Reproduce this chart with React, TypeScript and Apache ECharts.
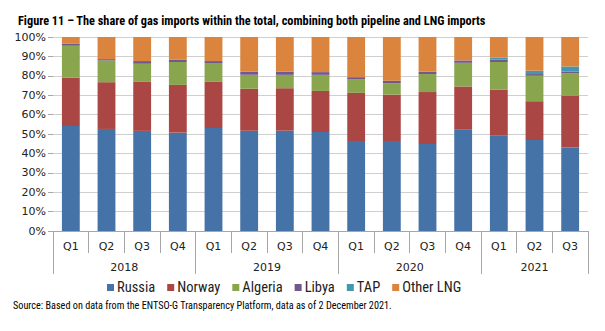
import React, { useEffect, useRef } from "react";
import * as echarts from "echarts";

const quarters = ["Q1","Q2","Q3","Q4","Q1","Q2","Q3","Q4","Q1","Q2","Q3","Q4","Q1","Q2","Q3"];
const years = ["2018", "2019", "2020", "2021"];
const yearCenters = [2, 6, 10, 13.5];
const yearBounds = [0, 4, 8, 12, 15];

const russia =   [54.1, 52.6, 51.6, 50.7, 53.1, 51.7, 51.7, 51.0, 46.4, 46.4, 44.8, 52.4, 49.3, 46.9, 43.1];
const norway =   [25.0, 24.1, 25.5, 24.6, 24.0, 21.6, 21.9, 21.2, 24.8, 23.9, 26.8, 22.1, 23.5, 20.0, 26.7];
const algeria =  [16.4, 11.2, 9.1, 11.8, 9.5, 7.2, 6.9, 8.3, 7.1, 5.9, 9.3, 12.2, 14.3, 13.1, 11.4];
const libya =    [1.2, 0.7, 1.4, 1.3, 1.0, 1.6, 1.6, 1.4, 1.0, 1.2, 1.2, 1.2, 1.2, 0.9, 1.0];
const tap =      [0, 0, 0, 0, 0, 0, 0, 0, 0, 0, 0, 0, 1.0, 1.7, 2.6];
const otherLng = [3.3, 11.4, 12.4, 11.6, 12.4, 17.9, 17.9, 18.1, 20.7, 22.6, 17.9, 12.1, 10.7, 17.4, 15.2];

const seriesNames = ["Russia", "Norway", "Algeria", "Libya", "TAP", "Other LNG"];
const seriesData = [russia, norway, algeria, libya, tap, otherLng];
const colors = ["#4572A7", "#AA4643", "#89A54E", "#71588F", "#4198AF", "#DB843D"];

const narrow = "'Liberation Sans Narrow', 'Roboto Condensed', 'Open Sans', sans-serif";
const tickFont = "'DejaVu Sans', Verdana, sans-serif";

export default function App() {
  const ref = useRef<HTMLDivElement>(null);
  useEffect(() => {
    if (!ref.current) return;
    const chart = echarts.init(ref.current, null, { renderer: "svg" });
    chart.setOption({
      animation: false,
      backgroundColor: "#ffffff",
      title: {
        text: "Figure 11 \u2013 The share of gas imports within the total, combining both pipeline and LNG imports",
        left: 13,
        top: 10,
        textStyle: { fontFamily: narrow, fontSize: 12.3, fontWeight: "bold", color: "#000" },
      },
      legend: {
        data: seriesNames,
        top: 275,
        left: 102,
        itemWidth: 7,
        itemHeight: 7,
        itemGap: 12,
        icon: "rect",
        textStyle: { fontFamily: narrow, fontSize: 14.5, color: "#222", padding: [0, 0, 0, -2] },
      },
      graphic: [
        {
          type: "text",
          left: 13,
          top: 300,
          style: {
            text: "Source: Based on data from the ENTSO-G Transparency Platform, data as of 2 December 2021.",
            fontFamily: narrow,
            fontSize: 10.2,
            fill: "#000",
          },
        },
      ],
      grid: { left: 53, right: 17, top: 37, bottom: 100, containLabel: false },
      xAxis: [
        {
          type: "category",
          data: quarters,
          position: "bottom",
          axisLine: { show: true, lineStyle: { color: "#a6a6a6" } },
          axisTick: { show: true, interval: 0, length: 22, lineStyle: { color: "#a6a6a6" } },
          axisLabel: { interval: 0, margin: 10, fontFamily: tickFont, fontSize: 11, color: "#222" },
        },
        {
          type: "value",
          min: 0,
          max: 15,
          position: "bottom",
          axisLine: { show: false },
          splitLine: { show: false },
          axisTick: { show: true, length: 43, customValues: yearBounds, lineStyle: { color: "#a6a6a6" } },
          axisLabel: {
            show: true,
            customValues: yearCenters,
            margin: 31,
            fontFamily: tickFont,
            fontSize: 11,
            color: "#222",
            formatter: (v: number) => years[yearCenters.indexOf(v)] ?? "",
          },
        },
      ],
      yAxis: {
        type: "value",
        min: 0,
        max: 100,
        interval: 10,
        axisLine: { show: false },
        axisTick: { show: true, length: 5, lineStyle: { color: "#a6a6a6" } },
        splitLine: { show: true, lineStyle: { color: "#cfcfcf" } },
        axisLabel: { formatter: "{value}%", margin: 7, fontFamily: tickFont, fontSize: 11, color: "#222" },
      },
      series: seriesNames.map((name, i) => ({
        name,
        type: "bar",
        stack: "total",
        xAxisIndex: 0,
        barWidth: "50%",
        data: seriesData[i],
        itemStyle: { color: colors[i] },
      })),
    });
    return () => chart.dispose();
  }, []);
  return <div ref={ref} style={{ width: 605, height: 331, position: "absolute", left: 0, top: 0 }} />;
}
